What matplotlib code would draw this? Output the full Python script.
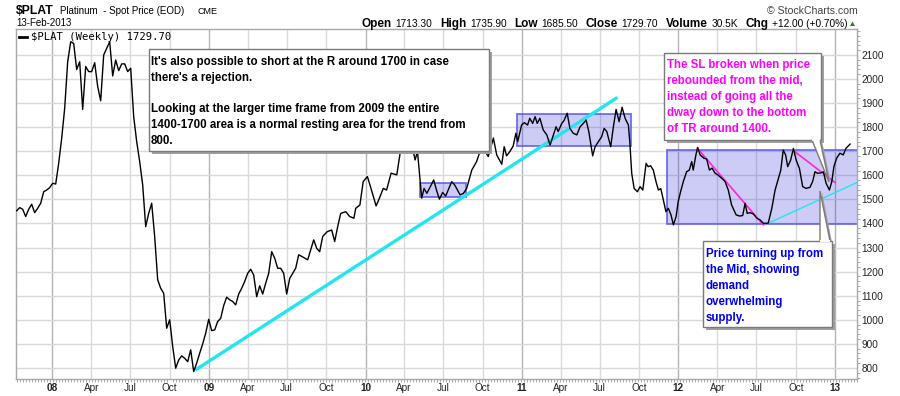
import numpy as np
import pandas as pd
import matplotlib
matplotlib.use("Agg")
import matplotlib.pyplot as plt
import matplotlib.dates as mdates
from matplotlib.patches import Rectangle, Polygon

plt.rcParams["font.family"] = ["Liberation Sans", "DejaVu Sans"]

# ---- data --------------------------------------------------------------
start_date = "2007-10-10"   # week offset 0

# one close per week for the first stretch (Oct 2007 - Jul 2009)
close_early = [1453, 1466, 1459, 1429, 1459, 1480, 1445, 1463, 1484, 1532,
               1539, 1549, 1567, 1564, 1650, 1754, 1879, 2072, 2155, 2148,
               2040, 2072, 1874, 2052, 2031, 2031, 2068, 1969, 1910, 2100,
               2128, 2155, 2013, 2079, 2035, 2063, 2063, 2031, 2045, 1844,
               1740, 1657, 1560, 1387, 1442, 1484, 1345, 1166, 1131, 1110,
               965, 1000, 889, 799, 833, 850, 840, 826, 875, 785,
               820, 861, 900, 944, 1002, 955, 958, 993, 1006, 1059,
               1094, 1083, 1076, 1062, 1107, 1131, 1159, 1193, 1210, 1186,
               1096, 1141, 1107, 1152, 1193, 1283, 1256, 1214, 1214, 1193,
               1107, 1172, 1193, 1214, 1270]

# rest of the line, read vertex by vertex (week offsets)
week_late = [95.5, 97, 99, 100, 101, 102, 103.5, 105, 106, 107,
             108, 109.7, 111, 112.4, 113, 114.4, 115.5, 116.9, 118, 119.8,
             120.9, 122.2, 123.3, 124.8, 126.7, 127.8, 128.7, 129.7, 130.7, 131.7,
             132.8, 133.6, 135, 135.8, 136.7, 138, 139, 140, 140.9, 142,
             143, 145, 146, 147.8, 148.9, 150, 151.7, 153.3, 154.4, 155.5,
             157.2, 158.9, 160, 161.7, 162.5, 163.3, 164.4, 165.5, 166.4, 167,
             168.3, 169.2, 170.3, 171, 172, 172.8, 173.5, 174.4, 175.5, 176.7,
             177.8, 178.9, 179.8, 180.5, 181.7, 182.4, 183.5, 184.4, 185.5, 186.7,
             187.8, 188.9, 189.8, 190.7, 192, 192.8, 193.9, 195, 195.8, 196.7,
             198, 198.9, 199.8, 200.8, 201.8, 202.8, 203.9, 204.4, 205, 205.8,
             206.9, 207.8, 208.7, 209.8, 210.5, 211.3, 212.2, 213.1, 213.9, 214.7,
             215.3, 216.4, 217.2, 218.1, 218.9, 219.8, 220.5, 221.3, 222.2, 223.3,
             224.2, 225, 225.5, 226.4, 227, 227.8, 229.1, 230, 230.9, 231.8,
             232.8, 233.7, 235, 236.1, 237.2, 238.3, 239.8, 240.9, 242, 242.8,
             243.5, 244.4, 245.5, 246.7, 247.8, 248.9, 250.5, 251.7, 252.8, 253.9,
             254.7, 255.5, 256.3, 257, 258, 258.9, 259.8, 260.9, 262, 263.1,
             264.4, 265.3, 266.1, 266.9, 268, 268.9, 269.8, 270.9, 271.7, 272.4,
             273.3, 274.4, 275.5, 276.4, 277.8]
close_late = [1260, 1249, 1332, 1297, 1283, 1346, 1366, 1373, 1325, 1387,
              1442, 1449, 1429, 1422, 1463, 1477, 1574, 1595, 1550, 1473,
              1505, 1546, 1539, 1609, 1602, 1692, 1699, 1750, 1790, 1730,
              1664, 1699, 1505, 1546, 1525, 1556, 1581, 1536, 1501, 1529,
              1514, 1574, 1560, 1519, 1525, 1546, 1622, 1657, 1698, 1712,
              1678, 1755, 1685, 1646, 1719, 1681, 1699, 1722, 1775, 1740,
              1809, 1819, 1809, 1837, 1816, 1844, 1816, 1837, 1789, 1768,
              1726, 1768, 1802, 1782, 1816, 1827, 1858, 1795, 1775, 1768,
              1802, 1816, 1830, 1782, 1681, 1719, 1740, 1761, 1795, 1782,
              1719, 1802, 1874, 1823, 1883, 1837, 1809, 1733, 1609, 1546,
              1532, 1553, 1539, 1650, 1636, 1640, 1622, 1574, 1539, 1545,
              1512, 1449, 1463, 1436, 1394, 1429, 1491, 1532, 1574, 1615,
              1622, 1657, 1622, 1685, 1716, 1685, 1671, 1668, 1622, 1630,
              1609, 1602, 1588, 1575, 1539, 1477, 1436, 1431, 1433, 1484,
              1442, 1445, 1440, 1422, 1415, 1401, 1401, 1463, 1539, 1588,
              1622, 1705, 1685, 1636, 1664, 1712, 1664, 1629, 1553, 1546,
              1550, 1574, 1615, 1609, 1610, 1615, 1567, 1539, 1574, 1636,
              1671, 1692, 1685, 1712, 1730]

price_ticks = list(range(800, 2200, 100))
tick_dates = pd.date_range("2008-01-01", "2013-01-01", freq="QS")

# shaded trading ranges: (week from, week to, low, high)
range_boxes = [(134.4, 149.8, 1512, 1567),
               (166.7, 204.8, 1723, 1854),
               (216.7, 282.0, 1397, 1705)]
# drawn trend lines: (weeks, prices)
cyan_main = ([60.0, 199.8], [795, 1920])
cyan_thin = ([250.5, 282.0], [1401, 1581])
magenta_a = ([226.9, 248.9], [1712, 1394])
magenta_b = ([259.1, 272.8], [1701, 1570])

note_1 = ["It's also possible to short at the R around 1700 in case",
          "there's a rejection.",
          "",
          "Looking at the larger time frame from 2009 the entire",
          "1400-1700 area is a normal resting area for the trend from",
          "800."]
note_2 = ["The SL broken when price", "rebounded from the mid,",
          "instead of going all the", "dway down to the bottom",
          "of TR around 1400."]
note_3 = ["Price turning up from", "the Mid, showing", "demand",
          "overwhelming", "supply."]

header_labels = ["Open", "High", "Low", "Close", "Volume", "Chg"]
header_values = ["1713.30", "1735.90", "1685.50", "1729.70", "30.5K",
                 "+12.00 (+0.70%)"]

# ---- helpers -----------------------------------------------------------
t0 = mdates.date2num(pd.Timestamp(start_date))


def wk(w):
    return t0 + np.asarray(w, dtype=float) * 7.0


W, H = 900, 396
fig = plt.figure(figsize=(W / 100, H / 100), dpi=100)
fig.patch.set_facecolor("white")

L, R, T, B = 16, 857, 29, 379
ax = fig.add_axes([L / W, 1 - B / H, (R - L) / W, (B - T) / H])

weeks_all = np.concatenate([np.arange(len(close_early)), week_late])
close_all = np.concatenate([close_early, close_late])

# grid
for d in tick_dates:
    col = "#b4b4b4" if d.month == 1 else "#dadada"
    ax.axvline(mdates.date2num(d), color=col, lw=1, zorder=0)
for p in price_ticks:
    ax.axhline(p, color="#dadada", lw=1, zorder=0)

for w0, w1, lo, hi in range_boxes:
    ax.add_patch(Rectangle((wk(w0), lo), wk(w1) - wk(w0), hi - lo,
                           facecolor=(0.1, 0.1, 0.85, 0.22),
                           edgecolor=(0.35, 0.35, 0.95, 0.8), lw=1.4, zorder=1))

ax.plot(wk(cyan_main[0]), cyan_main[1], color="#22e5f0", lw=2.4, zorder=2)
ax.plot(wk(cyan_thin[0]), cyan_thin[1], color="#22e5f0", lw=1.0, zorder=2)
ax.plot(wk(magenta_a[0]), magenta_a[1], color="#ff22dd", lw=1.2, zorder=2)
ax.plot(wk(magenta_b[0]), magenta_b[1], color="#ff22dd", lw=1.2, zorder=2)

ax.plot(wk(weeks_all), close_all, color="black", lw=1.0, zorder=3)

ax.set_xlim(wk(-0.23), wk(280.1))
ax.set_ylim(754, 2208)

ax.set_xticks(mdates.date2num(tick_dates))
ax.set_xticklabels([d.strftime("%y") if d.month == 1 else d.strftime("%b")
                    for d in tick_dates])
for lab, d in zip(ax.get_xticklabels(), tick_dates):
    if d.month == 1:
        lab.set_fontweight("bold")
ax.set_xticks(wk(np.arange(0, 281, 1)), minor=True)

ax.yaxis.tick_right()
ax.set_yticks(price_ticks)
ax.set_yticks(np.arange(760, 2210, 20), minor=True)

ax.tick_params(axis="both", which="major", length=0, labelsize=7.2,
               colors="#222222")
ax.tick_params(axis="x", which="major", pad=3)
ax.tick_params(axis="y", which="major", pad=3)
ax.tick_params(axis="both", which="minor", length=2, width=0.6,
               color="#9a9a9a")
for s in ax.spines.values():
    s.set_color("#a8a8a8")
    s.set_linewidth(1)

# ---- overlay in pixel coordinates --------------------------------------
ov = fig.add_axes([0, 0, 1, 1], zorder=5)
ov.set_xlim(0, W)
ov.set_ylim(H, 0)
ov.axis("off")


def note_box(x0, y0, x1, y1, pointer=None):
    ov.add_patch(Rectangle((x0 + 3, y0 + 3), x1 - x0, y1 - y0,
                           facecolor="#a0a0a0", edgecolor="none"))
    if pointer is not None:
        ov.add_patch(Polygon([(px + 2, py + 1) for px, py in pointer],
                             closed=True, facecolor="#a0a0a0", edgecolor="none"))
    ov.add_patch(Rectangle((x0, y0), x1 - x0, y1 - y0,
                           facecolor="white", edgecolor="#7a7a7a", lw=1))
    if pointer is not None:
        ov.add_patch(Polygon(pointer, closed=True, facecolor="white",
                             edgecolor="#7a7a7a", lw=1))
        ov.plot([pointer[0][0] + 0.6, pointer[-1][0] - 0.6],
                [pointer[0][1], pointer[-1][1]], color="white", lw=1.4)


def note_text(lines, x, y, step, color):
    for i, s in enumerate(lines):
        ov.text(x, y + i * step, s, color=color, fontsize=8.3,
                fontweight="bold", va="baseline", ha="left")


note_box(149, 49, 489, 151)
note_text(note_1, 151, 65, 15.8, "black")

note_box(664, 53, 821, 140, pointer=[(812, 140), (829, 182), (820, 140)])
note_text(note_2, 667, 68.3, 16, "#ff00ff")

note_box(703, 241, 832, 327, pointer=[(820, 241), (820, 191), (830, 241)])
note_text(note_3, 705.7, 256.7, 16, "#0000ee")

# header
ov.text(16, 14.5, "$PLAT", fontsize=8.8, fontweight="bold", va="baseline")
ov.text(60, 13.8, "Platinum  - Spot Price (EOD)", fontsize=7.0, va="baseline")
ov.text(197, 13.8, "CME", fontsize=6.5, va="baseline")
ov.text(16, 26.5, "13-Feb-2013", fontsize=7.0, va="baseline")
ov.text(858, 14, "\u00a9 StockCharts.com", fontsize=7.6, color="#444444",
        ha="right", va="baseline")

# quote line: lay out label/value pairs between x=361.7 and x=847.5
pieces = []
for lab, val in zip(header_labels, header_values):
    pieces.append(ov.text(0, 26.8, lab, fontsize=8.5, fontweight="bold",
                          va="baseline"))
    pieces.append(ov.text(0, 26.8, val, fontsize=7.3, va="baseline"))
fig.canvas.draw()
rend = fig.canvas.get_renderer()
widths = [p.get_window_extent(rend).width for p in pieces]
gap = (847.5 - 361.7 - sum(widths)) / 16.0
x = 361.7
for i, p in enumerate(pieces):
    p.set_x(x)
    x += widths[i] + (gap if i % 2 == 0 else 2 * gap)
ov.add_patch(Polygon([(850, 26), (855, 26), (852.5, 21.5)], closed=True,
                     facecolor="#2e7d32", edgecolor="none"))

# legend
ov.plot([19, 27], [37, 37], color="black", lw=2)
ov.text(31, 40.5, "$PLAT (Weekly) 1729.70", fontsize=7.6,
        family="DejaVu Sans Mono", va="baseline")

fig.savefig("out.png", dpi=100)
